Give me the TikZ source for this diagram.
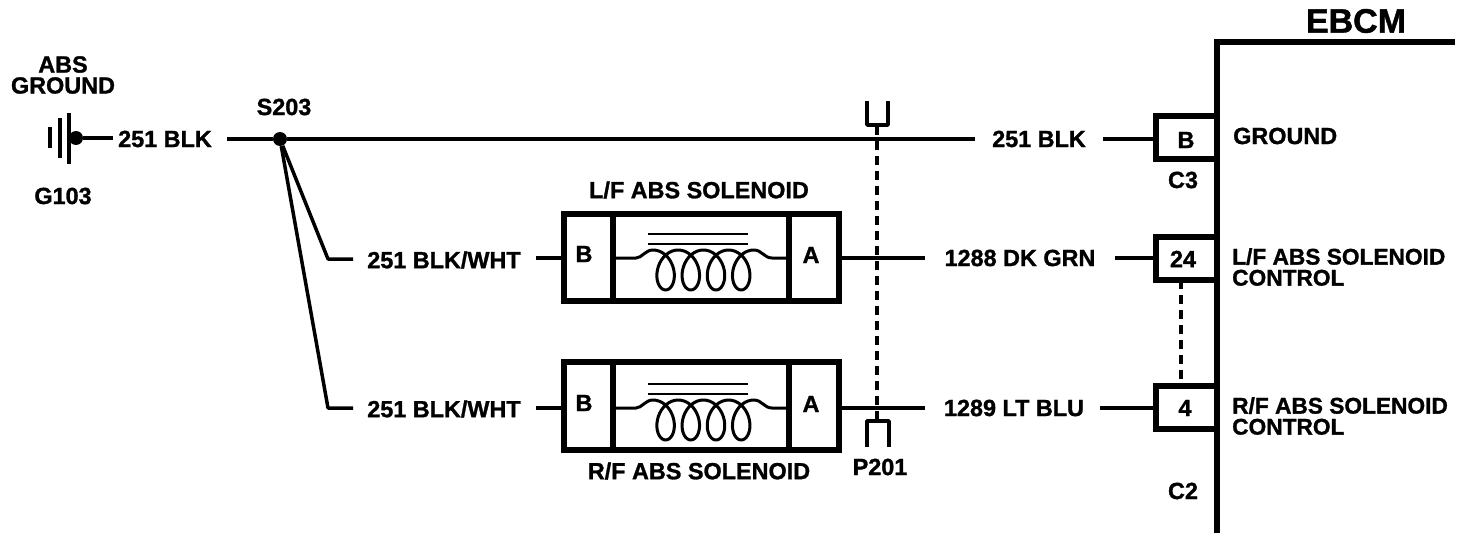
\documentclass[tikz,border=0pt]{standalone}
\usepackage{fontspec}
\setmainfont[BoldFont={Liberation Sans Bold},BoldFeatures={FakeBold=1.2}]{Liberation Sans}
\tikzset{
  x=1pt,y=-1pt,
  lbl/.style={font=\bfseries\fontsize{23.4}{22}\selectfont,inner sep=0pt,align=center,text=black},
  lblside/.style={font=\bfseries\fontsize{22.7}{22}\selectfont,inner sep=0pt,align=left,anchor=west,text=black},
  wire/.style={line width=3.5pt,black},
  thick wall/.style={line width=6pt,black,line join=miter},
  cellbox/.style={draw,line width=6pt,rectangle,inner sep=0pt,outer sep=0pt,anchor=north west},
  pin/.style={draw,line width=6pt,rectangle,inner sep=0pt,outer sep=0pt,anchor=north west,fill=white},
  dashwire/.style={line width=3.5pt,black,dash pattern=on 9pt off 6pt},
  splice/.style={circle,fill=black,inner sep=0pt,minimum size=14pt},
  coil/.pic={
    \draw[line width=2.8pt] (648,-24) -- (748,-24) (648,-14) -- (748,-14);
    \draw[line width=3pt,line join=round] (613,0) -- (636,0) .. controls (642,0) and (645,-8) .. (653,-8)
      -- plot[domain=0:1440,samples=145,smooth] ({653+\x/360*25.2+14.5*sin(\x)},{12-20*cos(\x)})
      .. controls (762,-8) and (764,0) .. (772,0) -- (789,0);
  }
}
\begin{document}
\begin{tikzpicture}
\useasboundingbox (0,0) rectangle (1472,540);
% ground
\node[lbl] (absg) at (63,75) {ABS\\[-1pt]GROUND};
\node[lbl] (g103) at (63,196) {G103};
\draw[line width=3.5pt] (50,127) -- (50,148) (60,118) -- (60,158);
\draw[line width=3.5pt] (69,113) -- (69,164);
\node[splice] (gnd) at (76,138) {};
\node[lbl] (w1) at (165,139) {251 BLK};
\node[splice] (s203) at (280,139) {};
\node[lbl] (s203t) at (284,107) {S203};
\coordinate (w1l) at (113,138);
\draw[wire] (gnd) -- (w1l);
\coordinate (w1r) at (227,139);
\draw[wire] (w1r) -- (s203);
% main wire
\node[lbl] (w2) at (1039,139) {251 BLK};
\coordinate (w2l) at (975,139);
\coordinate (w2r) at (1103,139);
\draw[wire] (s203) -- (w2l);
% EBCM
\node[font=\bfseries\fontsize{34}{34}\selectfont,inner sep=0pt] (ebcm) at (1356,21) {EBCM};
\coordinate (e1) at (1455,42);
\coordinate (e2) at (1217,42);
\coordinate (e3) at (1217,533);
% pins
\node[pin,minimum width=61pt,minimum height=43pt] (pb) at (1156,116) {};
\node[pin,minimum width=61pt,minimum height=43pt] (p24) at (1156,237) {};
\node[pin,minimum width=61pt,minimum height=43pt] (p4) at (1156,386) {};
\node[lbl] (pbt1) at (1186,140) {B};
\node[lbl] (p24t) at (1183,259) {24};
\node[lbl] (p4t) at (1185,408) {4};
\node[lbl] (c3) at (1183,180) {C3};
\node[lbl] (c2) at (1183,491) {C2};
\draw[thick wall] (e1) -- (e2) -- (e3);
\draw[wire] (w2r) -- (pb.west |- w2r);
\coordinate (dx) at (1181,0);
\draw[dashwire] (dx |- p24.south) -- (dx |- p4.north);
\node[lbl,anchor=west] (tg) at (1233,136) {GROUND};
\node[lblside] (t24) at (1232,267) {L/F ABS SOLENOID\\[-1pt]CONTROL};
\node[lblside] (t4) at (1232,416) {R/F ABS SOLENOID\\[-1pt]CONTROL};
% L/F solenoid
\node[lbl] (ltl) at (699,190) {L/F ABS SOLENOID};
\node[cellbox,minimum width=49pt,minimum height=87pt] (lb) at (564,214) {};
\node[cellbox,minimum width=176pt,minimum height=87pt] (lm) at (613,214) {};
\node[cellbox,minimum width=50pt,minimum height=87pt] (la) at (789,214) {};
\node[lbl] (lbt) at (584,254) {B};
\node[lbl] (lat) at (811,255) {A};
\pic at (0,258) {coil};
% R/F solenoid
\node[lbl] (rtl) at (699,471) {R/F ABS SOLENOID};
\node[cellbox,minimum width=49pt,minimum height=88pt] (rb) at (564,362) {};
\node[cellbox,minimum width=176pt,minimum height=88pt] (rm) at (613,362) {};
\node[cellbox,minimum width=50pt,minimum height=88pt] (ra) at (789,362) {};
\node[lbl] (rbt) at (584,403) {B};
\node[lbl] (rat) at (811,404) {A};
\pic at (0,408) {coil};
% wires
\node[lbl] (wl1) at (444,260) {251 BLK/WHT};
\node[lbl] (wr1) at (444,409) {251 BLK/WHT};
\coordinate (k1) at (328,259);
\coordinate (k2) at (328,408);
\coordinate (k1e) at (353,259);
\coordinate (k2e) at (353,408);
\draw[wire,line join=round] (s203) -- (k1) -- (k1e);
\draw[wire,line join=round] (s203) -- (k2) -- (k2e);
\coordinate (lw) at (536,258);
\coordinate (rw) at (536,408);
\draw[wire] (lw) -- (lb.west |- lw);
\draw[wire] (rw) -- (rb.west |- rw);
\node[lbl] (w1288) at (1020,258) {1288 DK GRN};
\node[lbl] (w1289) at (1014,408) {1289 LT BLU};
\coordinate (a1) at (925,258);
\coordinate (a2) at (925,408);
\draw[wire] (la.east |- a1) -- (a1);
\draw[wire] (ra.east |- a2) -- (a2);
\coordinate (b1) at (1115,258);
\coordinate (b2) at (1100,408);
\draw[wire] (b1) -- (p24.west |- b1);
\draw[wire] (b2) -- (p4.west |- b2);
% P201
\coordinate (pt) at (877,126);
\coordinate (pbt) at (877,419);
\draw[wire,line join=round] (867,101) -- (867,125) -- (888,125) -- (888,101);
\draw[wire,line join=round] (867,447) -- (867,421) -- (889,421) -- (889,447);
\draw[dashwire] (pt) -- (pbt);
\node[lbl] (p201) at (880,467) {P201};
\end{tikzpicture}
\end{document}
